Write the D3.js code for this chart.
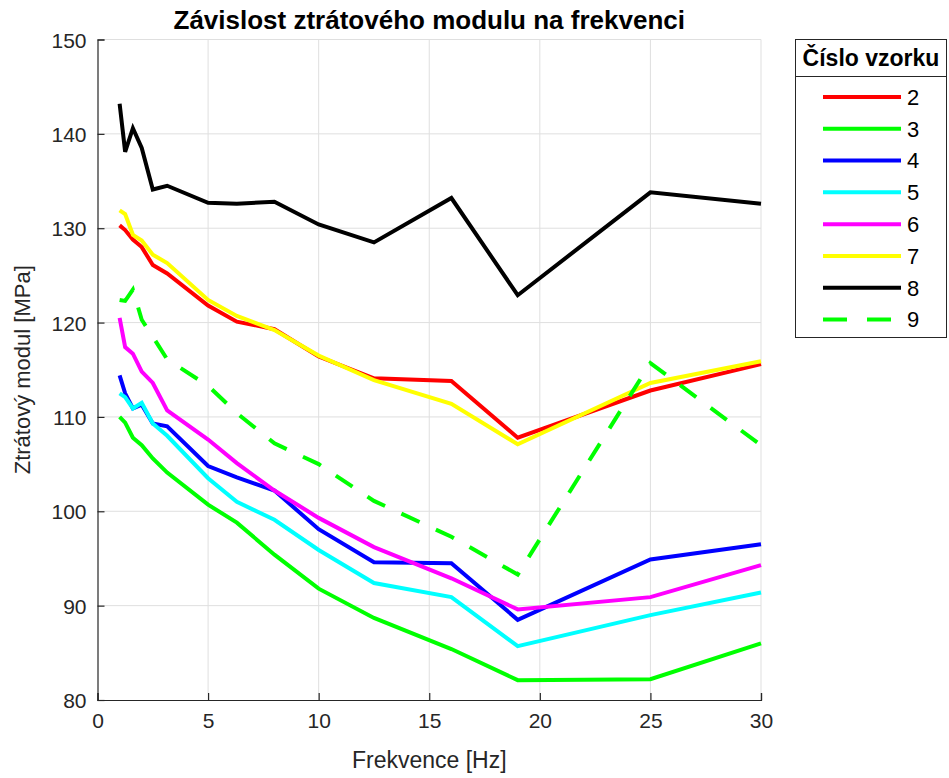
<!DOCTYPE html>
<html>
<head>
<meta charset="utf-8">
<script src="https://cdn.jsdelivr.net/npm/d3@7"></script>
<style>
  html, body { margin: 0; padding: 0; background: #fff; }
  svg { display: block; }
  text { font-family: "Liberation Sans", Arial, Helvetica, sans-serif; }
</style>
</head>
<body>
<svg id="chart" width="949" height="778"></svg>
<script>
const freqs = [1, 1.25, 1.6, 2, 2.5, 3.15, 5, 6.3, 8, 10, 12.5, 16, 19, 25, 30];

const sample2 = [130.3, 129.8, 128.8, 128.0, 126.1, 125.2, 121.8, 120.1, 119.3, 116.4, 114.1, 113.8, 107.8, 112.8, 115.6];
const sample3 = [110.0, 109.4, 107.8, 107.0, 105.6, 104.1, 100.7, 98.8, 95.4, 91.8, 88.7, 85.4, 82.1, 82.2, 86.0];
const sample4 = [114.4, 112.5, 110.9, 111.3, 109.3, 109.0, 104.8, 103.6, 102.2, 98.1, 94.6, 94.5, 88.5, 94.9, 96.5];
const sample5 = [112.5, 112.1, 110.9, 111.5, 109.3, 108.0, 103.5, 101.0, 99.1, 95.9, 92.4, 90.9, 85.7, 89.0, 91.4];
const sample6 = [120.5, 117.4, 116.7, 114.8, 113.6, 110.7, 107.6, 105.1, 102.2, 99.3, 96.2, 92.9, 89.6, 90.9, 94.3];
const sample7 = [131.9, 131.5, 129.3, 128.7, 127.2, 126.3, 122.4, 120.7, 119.2, 116.5, 113.9, 111.4, 107.1, 113.6, 115.9];
const sample8 = [143.2, 138.1, 140.6, 138.5, 134.1, 134.5, 132.7, 132.6, 132.8, 130.4, 128.5, 133.2, 122.9, 133.8, 132.6];
const sample9 = [122.4, 122.3, 123.5, 120.3, 118.5, 116.1, 113.3, 110.4, 107.2, 105.0, 101.1, 97.3, 93.3, 115.7, 107.0];

const seriesNames = ["2", "3", "4", "5", "6", "7", "8", "9"];
const seriesValues = [sample2, sample3, sample4, sample5, sample6, sample7, sample8, sample9];
const seriesColors = ["#ff0000", "#00ff00", "#0000ff", "#00ffff", "#ff00ff", "#ffff00", "#000000", "#00ff00"];
const seriesDashed = [false, false, false, false, false, false, false, true];

const xTicks = [0, 5, 10, 15, 20, 25, 30];
const yTicks = [80, 90, 100, 110, 120, 130, 140, 150];

const titleText = "Závislost ztrátového modulu na frekvenci";
const xLabelText = "Frekvence [Hz]";
const yLabelText = "Ztrátový modul [MPa]";
const legendTitle = "Číslo vzorku";

const svg = d3.select("#chart");
const L = 97.5, R = 761, T = 39.5, B = 700;
const axisColor = "#262626";
const gridColor = "#dfdfdf";

const x = d3.scaleLinear().domain([0, 30]).range([L, R]);
const y = d3.scaleLinear().domain([80, 150]).range([B, T]);

// grid
const grid = svg.append("g");
grid.selectAll("line.gx").data(xTicks.slice(1)).join("line")
  .attr("x1", d => x(d)).attr("x2", d => x(d))
  .attr("y1", T).attr("y2", B)
  .attr("stroke", gridColor).attr("stroke-width", 1);
grid.selectAll("line.gy").data(yTicks.slice(1)).join("line")
  .attr("x1", L).attr("x2", R)
  .attr("y1", d => y(d)).attr("y2", d => y(d))
  .attr("stroke", gridColor).attr("stroke-width", 1);

// lines
const line = d3.line().x((d, i) => x(freqs[i])).y(d => y(d));
const gLines = svg.append("g");
seriesValues.forEach((vals, k) => {
  gLines.append("path")
    .datum(vals)
    .attr("d", line)
    .attr("fill", "none")
    .attr("stroke", seriesColors[k])
    .attr("stroke-width", 4)
    .attr("stroke-linejoin", "miter")
    .attr("stroke-dasharray", seriesDashed[k] ? "20,18" : null);
});

// axes
const xAxis = d3.axisBottom(x).tickValues(xTicks).tickSize(-7).tickPadding(13).tickFormat(d3.format("d"));
const yAxis = d3.axisLeft(y).tickValues(yTicks).tickSize(-7).tickPadding(11).tickFormat(d3.format("d"));

const gx = svg.append("g").attr("transform", `translate(0,${B})`).call(xAxis);
const gy = svg.append("g").attr("transform", `translate(${L},0)`).call(yAxis);
[gx, gy].forEach(g => {
  g.select(".domain").attr("stroke", axisColor).attr("stroke-width", 1.2);
  g.selectAll(".tick line").attr("stroke", axisColor).attr("stroke-width", 1.2);
  g.selectAll(".tick text").attr("fill", axisColor).style("font-size", "21px")
    .style("font-family", "'Liberation Sans', Arial, sans-serif");
});
gy.selectAll(".tick text").attr("dy", "0.36em");

// title & labels
svg.append("text").attr("x", (L + R) / 2).attr("y", 29)
  .attr("text-anchor", "middle").attr("font-weight", "bold")
  .attr("font-size", 26).attr("fill", "#000").text(titleText);
svg.append("text").attr("x", (L + R) / 2).attr("y", 768)
  .attr("text-anchor", "middle")
  .attr("font-size", 23).attr("fill", axisColor).text(xLabelText);
svg.append("text").attr("transform", `translate(30,${(T + B) / 2}) rotate(-90)`)
  .attr("text-anchor", "middle")
  .attr("font-size", 22).attr("fill", axisColor).text(yLabelText);

// legend
const LX = 795.5, LY = 39.5, LW = 151, LH = 298;
const gl = svg.append("g");
gl.append("rect").attr("x", LX).attr("y", LY).attr("width", LW).attr("height", LH)
  .attr("fill", "#fff").attr("stroke", axisColor).attr("stroke-width", 1);
gl.append("line").attr("x1", LX).attr("x2", LX + LW).attr("y1", 76.5).attr("y2", 76.5)
  .attr("stroke", axisColor).attr("stroke-width", 1);
gl.append("text").attr("x", LX + LW / 2).attr("y", 66)
  .attr("text-anchor", "middle").attr("font-weight", "bold")
  .attr("font-size", 23).attr("fill", "#000").text(legendTitle);
const rowY = d3.scaleLinear().domain([0, seriesNames.length - 1]).range([97, 319.5]);
seriesNames.forEach((name, k) => {
  const yy = rowY(k);
  gl.append("line").attr("x1", 823).attr("x2", 901).attr("y1", yy).attr("y2", yy)
    .attr("stroke", seriesColors[k]).attr("stroke-width", 4)
    .attr("stroke-dasharray", seriesDashed[k] ? "24,20" : null);
  gl.append("text").attr("x", 907).attr("y", yy).attr("dy", "0.36em")
    .attr("font-size", 22).attr("fill", "#000").text(name);
});
</script>
</body>
</html>
